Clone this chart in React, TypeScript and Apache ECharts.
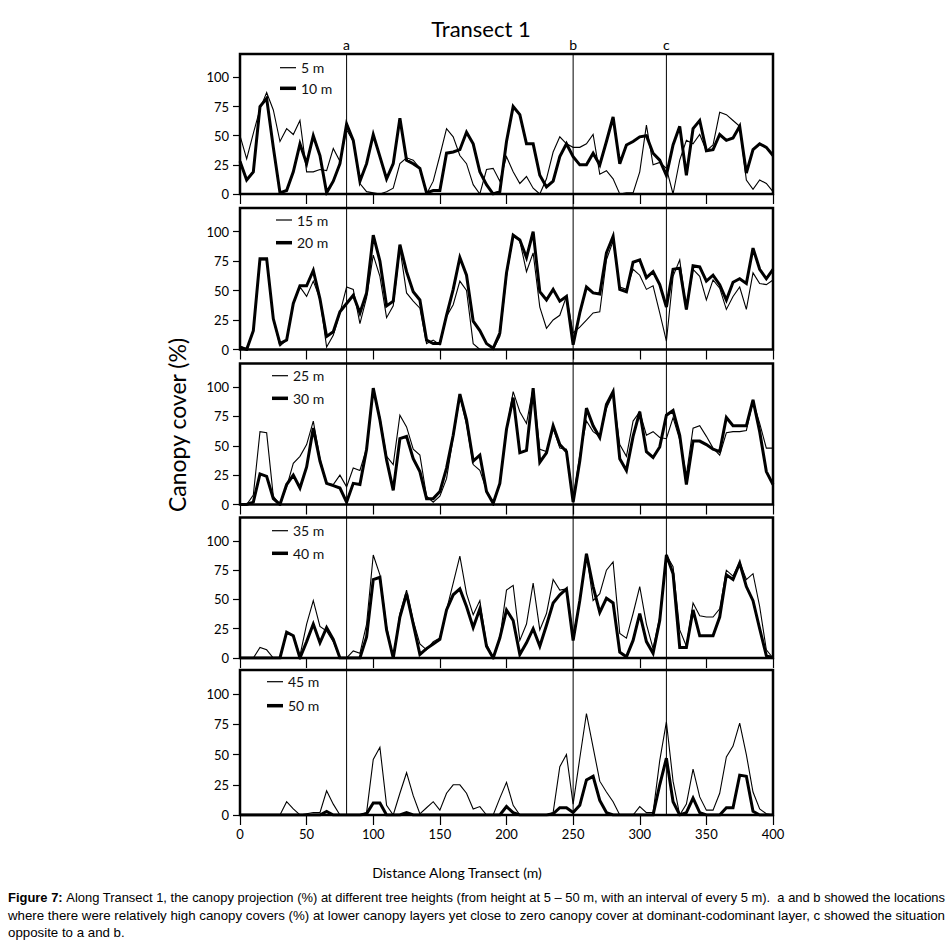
import React, { useEffect, useRef } from "react";
import * as echarts from "echarts";

// Distance along transect (m)
const DIST = [
  0, 5, 10, 15, 20, 25, 30, 35, 40, 45, 50, 55, 60, 65, 70, 75, 80, 85, 90, 95,
  100, 105, 110, 115, 120, 125, 130, 135, 140, 145, 150, 155, 160, 165, 170, 175, 180, 185, 190, 195,
  200, 205, 210, 215, 220, 225, 230, 235, 240, 245, 250, 255, 260, 265, 270, 275, 280, 285, 290, 295,
  300, 305, 310, 315, 320, 325, 330, 335, 340, 345, 350, 355, 360, 365, 370, 375, 380, 385, 390, 395,
  400,
];

// Canopy cover (%) at each height layer
const CANOPY_5M = [
  50, 30, 52, 73, 87, 72, 45, 56, 51, 63, 19, 19, 21, 20, 39, 28, 55, 45, 9, 2,
  1, 0, 2, 5, 26, 31, 29, 22, 0, 11, 33, 56, 49, 33, 26, 8, 0, 21, 22, 11,
  32, 19, 9, 15, 5, 0, 13, 36, 49, 43, 40, 40, 43, 51, 17, 20, 13, 0, 1, 1,
  19, 59, 25, 27, 22, 0, 29, 46, 43, 51, 37, 42, 70, 68, 63, 58, 12, 4, 12, 9,
  2,
];
const CANOPY_10M = [
  28, 12, 19, 75, 82, 40, 1, 3, 19, 43, 26, 50, 33, 1, 11, 26, 60, 46, 11, 26,
  51, 32, 13, 26, 65, 29, 26, 22, 1, 3, 3, 35, 36, 38, 53, 43, 19, 8, 0, 2,
  45, 75, 68, 43, 43, 16, 6, 11, 32, 43, 32, 25, 25, 35, 25, 45, 66, 26, 42, 45,
  49, 50, 35, 29, 16, 42, 58, 16, 56, 63, 37, 38, 51, 46, 48, 58, 18, 38, 43, 40,
  33,
];
const CANOPY_15M = [
  3, 0, 16, 76, 76, 26, 3, 8, 39, 53, 45, 58, 43, 2, 12, 31, 53, 51, 22, 44,
  80, 62, 27, 37, 86, 48, 41, 35, 5, 8, 4, 28, 38, 58, 50, 5, 0, 0, 0, 11,
  62, 96, 92, 66, 82, 36, 18, 25, 29, 45, 14, 19, 25, 31, 32, 76, 92, 53, 51, 68,
  63, 51, 54, 31, 7, 62, 76, 34, 68, 62, 42, 59, 52, 34, 45, 53, 34, 65, 56, 55,
  59,
];
const CANOPY_20M = [
  2, 0, 16, 77, 77, 26, 5, 8, 39, 54, 54, 67, 43, 11, 15, 32, 39, 46, 31, 48,
  97, 75, 37, 41, 89, 66, 49, 42, 8, 5, 5, 29, 51, 78, 63, 24, 16, 5, 1, 14,
  65, 97, 93, 78, 100, 49, 42, 51, 41, 45, 4, 31, 53, 48, 47, 82, 96, 51, 49, 74,
  76, 61, 66, 55, 36, 68, 69, 34, 71, 70, 58, 63, 55, 42, 57, 60, 56, 86, 68, 60,
  68,
];
const CANOPY_25M = [
  0, 0, 8, 62, 61, 7, 0, 15, 35, 41, 51, 71, 39, 18, 17, 25, 15, 31, 29, 48,
  99, 74, 41, 34, 76, 66, 47, 42, 7, 2, 7, 22, 57, 92, 68, 34, 29, 12, 1, 18,
  63, 96, 79, 69, 99, 47, 45, 65, 48, 47, 4, 42, 71, 62, 58, 82, 94, 51, 41, 71,
  79, 59, 62, 57, 56, 74, 55, 25, 65, 67, 58, 48, 42, 61, 62, 62, 63, 88, 69, 48,
  48,
];
const CANOPY_30M = [
  0, 0, 2, 26, 24, 5, 0, 17, 25, 14, 32, 65, 37, 18, 16, 14, 2, 18, 17, 47,
  99, 72, 38, 12, 56, 58, 39, 28, 5, 5, 11, 31, 59, 94, 72, 37, 42, 11, 1, 18,
  64, 91, 44, 46, 99, 36, 44, 67, 51, 45, 2, 37, 82, 67, 57, 85, 96, 39, 29, 58,
  79, 45, 40, 49, 76, 80, 59, 17, 54, 54, 51, 47, 45, 74, 67, 67, 67, 89, 62, 28,
  17,
];
const CANOPY_35M = [
  0, 0, 0, 9, 7, 0, 0, 21, 19, 2, 29, 49, 27, 23, 14, 0, 0, 6, 4, 29,
  88, 71, 27, 0, 38, 58, 32, 12, 7, 14, 17, 41, 64, 87, 55, 37, 49, 12, 0, 17,
  58, 62, 15, 29, 64, 24, 38, 67, 58, 59, 19, 48, 89, 49, 55, 75, 82, 21, 17, 38,
  61, 29, 8, 35, 88, 78, 24, 10, 47, 36, 35, 35, 42, 75, 70, 82, 67, 72, 44, 7,
  0,
];
const CANOPY_40M = [
  0, 0, 0, 0, 0, 0, 0, 22, 19, 0, 14, 29, 13, 26, 16, 0, 0, 0, 0, 18,
  67, 69, 24, 0, 35, 55, 29, 3, 8, 12, 16, 41, 54, 59, 44, 26, 42, 10, 0, 17,
  41, 32, 3, 13, 25, 10, 28, 47, 54, 59, 15, 49, 89, 61, 39, 51, 47, 5, 1, 15,
  38, 14, 4, 32, 88, 72, 9, 9, 41, 19, 19, 19, 35, 71, 67, 81, 61, 49, 25, 2,
  0,
];
const CANOPY_45M = [
  0, 0, 0, 0, 0, 0, 0, 11, 5, 0, 1, 2, 2, 20, 9, 0, 0, 0, 0, 2,
  46, 56, 8, 0, 18, 35, 16, 1, 6, 11, 4, 18, 25, 25, 18, 5, 7, 0, 0, 14,
  27, 8, 0, 0, 0, 0, 0, 2, 40, 50, 9, 47, 84, 56, 28, 19, 11, 0, 0, 0,
  7, 2, 2, 45, 77, 28, 0, 9, 38, 15, 4, 4, 18, 48, 57, 76, 50, 19, 5, 1,
  0,
];
const CANOPY_50M = [
  0, 0, 0, 0, 0, 0, 0, 0, 0, 0, 0, 0, 0, 3, 0, 0, 0, 0, 0, 1,
  10, 10, 0, 0, 0, 2, 0, 0, 0, 0, 0, 0, 0, 0, 0, 0, 0, 0, 0, 0,
  7, 2, 0, 0, 0, 0, 0, 1, 6, 6, 2, 8, 29, 32, 12, 2, 0, 0, 0, 0,
  0, 0, 0, 25, 47, 11, 0, 2, 14, 2, 0, 0, 0, 6, 6, 33, 32, 3, 0, 0,
  0,
];

const THIN_NAMES = ["5 m", "15 m", "25 m", "35 m", "45 m"];
const THICK_NAMES = ["10 m", "20 m", "30 m", "40 m", "50 m"];
const THIN_DATA = [CANOPY_5M, CANOPY_15M, CANOPY_25M, CANOPY_35M, CANOPY_45M];
const THICK_DATA = [CANOPY_10M, CANOPY_20M, CANOPY_30M, CANOPY_40M, CANOPY_50M];

const Y_TICKS = [0, 25, 50, 75, 100];
const REF_X = [80, 250, 320];
const REF_LABELS = ["a", "b", "c"];

const CAPTION_LINES = [
  "Along Transect 1, the canopy projection (%) at different tree heights (from height at 5 \u2013 50 m, with an interval of every 5 m).\u00a0 a and b showed the locations",
  "where there were relatively high canopy covers (%) at lower canopy layers yet close to zero canopy cover at dominant-codominant layer, c showed the situation",
  "opposite to a and b.",
];

// layout (pixels)
const FONT = "Lato, 'Open Sans', sans-serif";
const GRID_LEFT = 240;
const GRID_WIDTH = 533;
const GRID_TOPS = [54, 208, 363.5, 517.5, 670];
const GRID_HEIGHTS = [140, 141.5, 141, 140.5, 145];
const LEGEND_POS = [
  { left: 280, top: 60.7, gap: 6.6 },
  { left: 276, top: 213, gap: 8.7 },
  { left: 272, top: 368.7, gap: 8.6 },
  { left: 272, top: 523.7, gap: 8.6 },
  { left: 267, top: 674.7, gap: 10 },
];
const THIN_ICON = "path://M0 0H40V3H0Z";
const THICK_ICON = "path://M0 0H32V7H0Z";

export default function App() {
  const chartRef = useRef<HTMLDivElement | null>(null);
  const lineRefs = useRef<(HTMLSpanElement | null)[]>([]);

  useEffect(() => {
    const el = chartRef.current;
    if (!el) return;
    const chart = echarts.init(el, undefined, { renderer: "svg" });

    const grids = GRID_TOPS.map((top, i) => ({
      left: GRID_LEFT,
      width: GRID_WIDTH,
      top,
      height: GRID_HEIGHTS[i],
      show: true,
      borderColor: "#000",
      borderWidth: 2.5,
      backgroundColor: "transparent",
    }));

    const xAxes = GRID_TOPS.map((_, i) => ({
      type: "value",
      gridIndex: i,
      min: 0,
      max: 400,
      interval: 50,
      axisLine: { show: false },
      axisTick: { show: true, inside: false, length: 10, lineStyle: { color: "#000", width: 1.2 } },
      axisLabel: {
        show: i === 4,
        fontSize: 13,
        color: "#000",
        margin: 12,
        fontFamily: FONT,
      },
      splitLine: { show: false },
    }));

    const yAxes = GRID_TOPS.map((_, i) => ({
      type: "value",
      gridIndex: i,
      min: 0,
      max: 120,
      interval: 25,
      axisLine: { show: false },
      axisTick: {
        show: true,
        length: 7,
        customValues: Y_TICKS,
        lineStyle: { color: "#000", width: 1.2 },
      },
      axisLabel: {
        customValues: Y_TICKS,
        formatter: (v: number) => (v > 100 ? "" : String(v)),
        fontSize: 13,
        color: "#000",
        margin: 11,
        fontFamily: FONT,
      },
      splitLine: { show: false },
    }));

    const series: any[] = [];
    for (let i = 0; i < 5; i++) {
      series.push({
        name: THIN_NAMES[i],
        type: "line",
        xAxisIndex: i,
        yAxisIndex: i,
        data: DIST.map((d, j) => [d, THIN_DATA[i][j]]),
        symbol: "none",
        lineStyle: { color: "#000", width: 1.1, join: "miter", miterLimit: 4 },
        itemStyle: { color: "#000" },
        z: 3,
      });
      series.push({
        name: THICK_NAMES[i],
        type: "line",
        xAxisIndex: i,
        yAxisIndex: i,
        data: DIST.map((d, j) => [d, THICK_DATA[i][j]]),
        symbol: "none",
        lineStyle: { color: "#000", width: 3, join: "miter", miterLimit: 4 },
        itemStyle: { color: "#000" },
        z: 2,
      });
    }

    const legends = LEGEND_POS.map((p, i) => ({
      data: [
        { name: THIN_NAMES[i], icon: THIN_ICON },
        { name: THICK_NAMES[i], icon: THICK_ICON },
      ],
      orient: "vertical",
      left: p.left,
      top: p.top,
      itemGap: p.gap,
      itemWidth: 16,
      itemHeight: 14,
      padding: 0,
      selectedMode: false,
      itemStyle: { color: "#000", borderWidth: 0 },
      lineStyle: { width: 0, opacity: 0 },
      textStyle: { fontSize: 14, color: "#111", fontFamily: FONT },
    }));

    chart.setOption({
      animation: false,
      backgroundColor: "#fff",
      title: {
        text: "Transect 1",
        left: 481,
        top: 17,
        textAlign: "center",
        padding: 0,
        textStyle: { fontSize: 22, fontWeight: "normal", color: "#000", fontFamily: FONT },
      },
      grid: grids,
      xAxis: xAxes,
      yAxis: yAxes,
      legend: legends,
      series,
    });

    const topY = chart.convertToPixel({ yAxisIndex: 0 }, 120) as number;
    const bottomY = chart.convertToPixel({ yAxisIndex: 4 }, 0) as number;
    const elements: any[] = [];
    REF_X.forEach((v, k) => {
      const px = chart.convertToPixel({ xAxisIndex: 0 }, v) as number;
      elements.push({
        type: "line",
        shape: { x1: px, y1: topY, x2: px, y2: bottomY },
        style: { stroke: "#000", lineWidth: 1 },
        z: 10,
      });
      elements.push({
        type: "text",
        x: px,
        y: topY - 10,
        style: {
          text: REF_LABELS[k],
          align: "center",
          verticalAlign: "middle",
          fontSize: 14,
          fontFamily: FONT,
          fill: "#000",
        },
        z: 10,
      });
    });
    elements.push({
      type: "text",
      x: 177,
      y: 425,
      rotation: Math.PI / 2,
      style: {
        text: "Canopy cover (%)",
        align: "center",
        verticalAlign: "middle",
        fontSize: 23,
        fontFamily: FONT,
        fill: "#000",
      },
    });
    elements.push({
      type: "text",
      x: 457,
      y: 872,
      style: {
        text: "Distance Along Transect (m)",
        align: "center",
        verticalAlign: "middle",
        fontSize: 14,
        fontFamily: FONT,
        fill: "#000",
      },
    });
    chart.setOption({ graphic: { elements } });

    // fit caption lines to the text block width (justified look)
    const target = 937;
    let lastScale = 1;
    lineRefs.current.forEach((span, k) => {
      if (!span) return;
      const w = span.getBoundingClientRect().width;
      if (k < 2 && w > 0) {
        lastScale = target / w;
        span.style.transform = `scaleX(${lastScale})`;
      } else {
        span.style.transform = `scaleX(${Math.min(lastScale, 1.05)})`;
      }
    });

    return () => {
      chart.dispose();
    };
  }, []);

  return (
    <div style={{ position: "absolute", left: 0, top: 0, width: 952, height: 945, background: "#fff" }}>
      <div ref={chartRef} style={{ position: "absolute", left: 0, top: 0, width: 952, height: 945 }} />
      <div
        style={{
          position: "absolute",
          left: 8,
          top: 889,
          width: 937,
          fontFamily: "'Liberation Sans Narrow', 'Arial Narrow', 'Liberation Sans', Arial, sans-serif",
          fontSize: 13,
          lineHeight: "17.5px",
          color: "#000",
        }}
      >
        {CAPTION_LINES.map((line, k) => (
          <div key={k} style={{ whiteSpace: "nowrap", height: 17.5 }}>
            <span
              ref={(node) => {
                lineRefs.current[k] = node;
              }}
              style={{ display: "inline-block", transformOrigin: "0 0", whiteSpace: "nowrap" }}
            >
              {k === 0 ? <b>Figure 7: </b> : null}
              {line}
            </span>
          </div>
        ))}
      </div>
    </div>
  );
}
